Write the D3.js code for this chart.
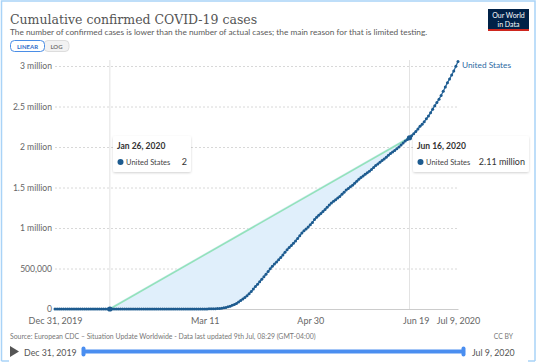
<!DOCTYPE html>
<html>
<head>
<meta charset="utf-8">
<script src="https://cdn.jsdelivr.net/npm/d3@7"></script>
<style>
  html, body { margin: 0; padding: 0; background: #fff; }
  svg { display: block; }
</style>
</head>
<body>
<div id="chart"></div>
<script>
// US cumulative confirmed cases, one value per day starting Dec 31, 2019
const startDay = "2019-12-31";
const usCases = [
  0,0,0,0,0,0,0,0,0,0,0,0,0,0,0,0,0,0,0,0,0,                 // Dec 31 - Jan 20
  1,1,1,2,2,2,5,5,5,5,6,                                      // Jan 21 - Jan 31
  7,8,11,11,11,12,12,12,12,12,13,13,14,15,15,15,15,15,15,15,  // Feb 1 - Feb 20
  35,35,35,53,53,59,60,62,62,                                 // Feb 21 - Feb 29
  62,75,103,125,159,233,338,433,554,754,1025,1312,1663,2174,2951,3774,
  4661,6427,9415,14250,19624,26747,35206,46442,55231,69194,85991,104686,
  124665,143025,164620,                                       // March
  189618,216721,245540,277205,304826,336673,366614,397121,428654,462780,
  496535,526396,555313,580619,607670,636350,667592,699706,732197,759086,
  784326,811865,840351,869170,905358,938154,965785,988197,1012582,1039909, // April
  1069424,1103461,1132539,1158040,1180375,1204351,1228603,1256972,1283929,
  1309550,1329260,1347881,1369376,1390406,1417774,1442824,1467820,1486757,
  1508308,1528568,1551853,1577147,1600937,1622670,1643238,1662302,1681212,
  1699933,1721750,1747087,1770384,                            // May
  1790191,1811020,1831821,1851520,1872660,1897380,1920061,1938823,1956421,
  1979850,2000464,2023347,2048986,2074526,2094069,2114026,2137731,2163290,
  2191052,2222579,2255119,2280969,2312302,2347491,2381369,2422312,2467554,
  2510259,2549069,2590582,                                    // June
  2636414,2687588,2739879,2794153,2839436,2888635,2938624,2996098,3055491 // Jul 1 - 9
];

const compareDays = ["2020-01-26", "2020-06-16"];
const compareLabels = ["Jan 26, 2020", "Jun 16, 2020"];
const compareValueLabels = ["2", "2.11 million"];

const xTickDays = ["2019-12-31", "2020-03-11", "2020-04-30", "2020-06-19", "2020-07-09"];
const xTickLabels = ["Dec 31, 2019", "Mar 11", "Apr 30", "Jun 19", "Jul 9, 2020"];
const yTickValues = [0, 500000, 1000000, 1500000, 2000000, 2500000, 3000000];
const yTickLabels = ["0", "500,000", "1 million", "1.5 million", "2 million", "2.5 million", "3 million"];

const width = 537, height = 363;
const parse = d3.timeParse("%Y-%m-%d");
const day0 = parse(startDay);
const data = usCases.map((v, i) => ({ date: d3.timeDay.offset(day0, i), value: v }));

const svg = d3.select("#chart").append("svg")
    .attr("width", width).attr("height", height)
    .style("font-family", "Lato, 'Open Sans', sans-serif");

// frame
svg.append("path")
    .attr("d", `M1.5,361 L1.5,1 L535,1 L535,361`)
    .attr("fill", "none").attr("stroke", "#a9d3f7").attr("stroke-width", 1.5);
svg.append("path").attr("d", "M1.5,361 L9,361 M528,361 L535,361")
    .attr("stroke", "#a9d3f7").attr("stroke-width", 1.5);

// title & subtitle, fitted to width
const fit = (sel, w) => {
    let fs = +sel.attr("font-size");
    while (sel.node().getComputedTextLength() > w && fs > 4) { fs -= 0.1; sel.attr("font-size", fs); }
    while (sel.node().getComputedTextLength() < w - 2) { fs += 0.1; sel.attr("font-size", fs); }
};
const title = svg.append("text").attr("x", 10).attr("y", 24)
    .attr("font-family", "'DejaVu Serif', 'Liberation Serif', serif")
    .attr("font-size", 18).attr("fill", "#555")
    .text("Cumulative confirmed COVID-19 cases");
fit(title, 248);
const sub = svg.append("text").attr("x", 10).attr("y", 34.5)
    .attr("font-size", 8).attr("fill", "#5b5b5b")
    .text("The number of confirmed cases is lower than the number of actual cases; the main reason for that is limited testing.");
fit(sub, 417);

// LINEAR / LOG buttons
svg.append("rect").attr("x", 44).attr("y", 40.5).attr("width", 25).attr("height", 11).attr("rx", 4)
    .attr("fill", "#f2f2f2").attr("stroke", "#ddd");
svg.append("rect").attr("x", 10.5).attr("y", 40.5).attr("width", 34).attr("height", 11).attr("rx", 4)
    .attr("fill", "#fff").attr("stroke", "#4b8ee6");
svg.append("text").attr("x", 27.5).attr("y", 48.8).attr("text-anchor", "middle")
    .attr("font-size", 6).attr("font-weight", "bold").attr("fill", "#2f6ec9").text("LINEAR");
svg.append("text").attr("x", 56.5).attr("y", 48.8).attr("text-anchor", "middle")
    .attr("font-size", 6).attr("font-weight", "bold").attr("fill", "#777").text("LOG");

// logo
svg.append("rect").attr("x", 488).attr("y", 9).attr("width", 41).attr("height", 22).attr("fill", "#002147");
svg.append("rect").attr("x", 488).attr("y", 29).attr("width", 41).attr("height", 2).attr("fill", "#ce261e");
svg.append("text").attr("x", 508.5).attr("y", 18).attr("text-anchor", "middle")
    .attr("font-size", 7).attr("fill", "#fff").text("Our World");
svg.append("text").attr("x", 508.5).attr("y", 26.5).attr("text-anchor", "middle")
    .attr("font-size", 7).attr("fill", "#fff").text("in Data");

// scales
const x = d3.scaleTime().domain([day0, parse("2020-07-09")]).range([55, 458]);
const y = d3.scaleLinear().domain([0, 3000000]).range([309, 66]);

// y grid + labels
const yAxis = svg.append("g").attr("transform", "translate(55,0)")
    .call(d3.axisLeft(y).tickValues(yTickValues)
        .tickFormat((d, i) => yTickLabels[i]).tickSize(-403).tickPadding(3));
yAxis.select(".domain").remove();
yAxis.selectAll(".tick line").attr("stroke", "#d8d8d8").attr("stroke-dasharray", "2,2");
yAxis.selectAll(".tick text").attr("fill", "#666").attr("font-size", 8.6)
    .attr("font-family", "Lato, sans-serif");

// x axis
const xAxis = svg.append("g").attr("transform", "translate(0,309)")
    .call(d3.axisBottom(x).tickValues(xTickDays.map(parse))
        .tickFormat((d, i) => xTickLabels[i]).tickSize(0).tickPadding(9));
xAxis.select(".domain").attr("stroke", "#ccc");
xAxis.selectAll(".tick text").attr("fill", "#666").attr("font-size", 9)
    .attr("font-family", "Lato, sans-serif");

// comparison markers (vertical lines)
const cmp = compareDays.map(s => data.find(d => +d.date === +parse(s)));
cmp.forEach(d => {
    svg.append("line").attr("x1", x(d.date)).attr("x2", x(d.date))
        .attr("y1", 60).attr("y2", 309).attr("stroke", "#e3e3e3");
});

// shaded region between straight line and curve
const inRange = data.filter(d => d.date >= cmp[0].date && d.date <= cmp[1].date);
const poly = [cmp[0], cmp[1]].concat(inRange.slice().reverse());
svg.append("path")
    .attr("d", d3.line().x(d => x(d.date)).y(d => y(d.value) - 1.5)(poly) + "Z")
    .attr("fill", "#e0effb");

svg.append("line")
    .attr("x1", x(cmp[0].date)).attr("y1", y(cmp[0].value))
    .attr("x2", x(cmp[1].date)).attr("y2", y(cmp[1].value))
    .attr("stroke", "#93e2bb").attr("stroke-width", 1.6);

// series
const lineColor = "#1d5b8f";
svg.append("path").datum(data)
    .attr("d", d3.line().x(d => x(d.date)).y(d => y(d.value)))
    .attr("fill", "none").attr("stroke", "#2a6aa0").attr("stroke-width", 1.3);
svg.append("g").selectAll("circle").data(data).join("circle")
    .attr("cx", d => x(d.date)).attr("cy", d => y(d.value)).attr("r", 1.5)
    .attr("fill", lineColor);
svg.append("g").selectAll("circle").data(cmp).join("circle")
    .attr("cx", d => x(d.date)).attr("cy", d => y(d.value)).attr("r", 2.6)
    .attr("fill", lineColor);

const last = data[data.length - 1];
svg.append("text").attr("x", x(last.date) + 4).attr("y", y(last.value) + 6)
    .attr("font-size", 8.3).attr("fill", "#2d6aa3").text("United States");

// tooltips
const tipBoxes = [{ x: 113, w: 78 }, { x: 413, w: 116 }];
const defs = svg.append("defs");
const f = defs.append("filter").attr("id", "sh").attr("x", "-10%").attr("y", "-10%")
    .attr("width", "130%").attr("height", "140%");
f.append("feDropShadow").attr("dx", 0).attr("dy", 1).attr("stdDeviation", 1.2)
    .attr("flood-color", "#000").attr("flood-opacity", 0.18);
tipBoxes.forEach((b, i) => {
    const g = svg.append("g").attr("transform", `translate(${b.x},136)`);
    g.append("rect").attr("width", b.w).attr("height", 36).attr("rx", 2)
        .attr("fill", "#fff").attr("filter", "url(#sh)");
    g.append("text").attr("x", 4).attr("y", 12.5).attr("font-size", 8.5)
        .attr("font-weight", "bold").attr("fill", "#333").text(compareLabels[i]);
    g.append("circle").attr("cx", 7.5).attr("cy", 26).attr("r", 3).attr("fill", lineColor);
    g.append("text").attr("x", 13).attr("y", 28.5).attr("font-size", 7.5)
        .attr("fill", "#444").text("United States");
    g.append("text").attr("x", b.w - 4).attr("y", 29).attr("font-size", 9)
        .attr("text-anchor", "end").attr("fill", "#333").text(compareValueLabels[i]);
});

// footer
const src = svg.append("text").attr("x", 10).attr("y", 338.5).attr("font-size", 6.8).attr("fill", "#777")
    .text("Source: European CDC – Situation Update Worldwide - Data last updated 9th Jul, 08:29 (GMT-04:00)");
fit(src, 304);
svg.append("text").attr("x", 513).attr("y", 338.5).attr("font-size", 6.8).attr("text-anchor", "end")
    .attr("fill", "#777").text("CC BY");

// timeline
svg.append("path").attr("d", "M10,346 L19,351.5 L10,357 Z").attr("fill", "#555");
svg.append("text").attr("x", 24).attr("y", 355.5).attr("font-size", 8.8).attr("fill", "#555")
    .text(xTickLabels[0]);
svg.append("text").attr("x", 472).attr("y", 355.5).attr("font-size", 8.8).attr("fill", "#555")
    .text(xTickLabels[xTickLabels.length - 1]);
svg.append("rect").attr("x", 83).attr("y", 349.5).attr("width", 382).attr("height", 4).attr("rx", 2)
    .attr("fill", "#4a8ef0");
[83, 463].forEach(hx => {
    svg.append("rect").attr("x", hx - 1.5).attr("y", 346.5).attr("width", 4).attr("height", 10)
        .attr("rx", 2).attr("fill", "#4a8ef0");
});
</script>
</body>
</html>
